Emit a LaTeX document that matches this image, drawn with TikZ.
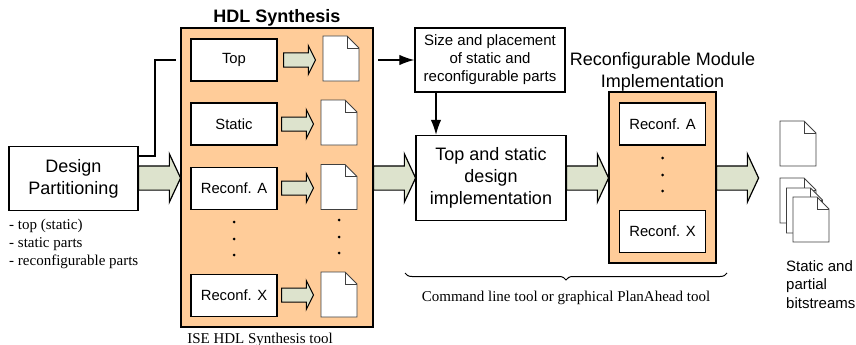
\documentclass[tikz,border=0pt]{standalone}
\usepackage{fontspec}
\setmainfont{Liberation Sans}
\newfontfamily\serifnote{Liberation Serif}
\usetikzlibrary{arrows.meta,shapes.arrows,decorations.pathreplacing}
\definecolor{toolorange}{HTML}{FFCC99}
\definecolor{arrowgreen}{HTML}{DDE3CD}
\tikzset{
  block/.style={draw,line width=1.4pt,fill=white,align=center,inner sep=0pt},
  toolbox/.style={draw,line width=1.4pt,fill=toolorange,inner sep=0pt},
  part/.style={block,minimum width=86pt,minimum height=42pt,font=\fontsize{14.800}{16}\selectfont},
  bigarrow/.style={single arrow,anchor=tail,draw,line width=1.2pt,fill=arrowgreen,inner xsep=0pt,inner ysep=11.5pt,
    minimum height=42pt,single arrow head extend=12pt,
    single arrow tip angle=130,single arrow head indent=0pt},
  smallarrow/.style={single arrow,anchor=tail,draw,line width=1pt,fill=arrowgreen,inner xsep=0pt,inner ysep=6.5pt,
    minimum height=32pt,single arrow head extend=7.5pt,
    single arrow tip angle=127,single arrow head indent=0pt},
  dotnode/.style={circle,fill=black,inner sep=0pt,minimum size=3pt},
  note/.style={font=\serifnote\fontsize{15}{18}\selectfont,align=left,inner sep=0pt},
  docsheet/.pic={
    \draw [line width=.9pt,fill=white,draw=black!75] (0,0) -- (24,0) -- (36,12) -- (36,45) -- (0,45) -- cycle;
    \draw [line width=.9pt,draw=black!75] (24,0) -- (24,12) -- (36,12);
  }
}
\begin{document}
\begin{tikzpicture}[x=1pt,y=-1pt,>={Latex[length=15pt,width=10.5pt]},line join=miter]
\useasboundingbox (0,0) rectangle (856,345);
%%
  \node (design) at (73.5,178.5) [block,minimum width=129pt,minimum height=64pt,font=\fontsize{18}{22}\selectfont] {Design\\Partitioning};
  \node (design_note) at (9,244) [note,anchor=west] {- top (static)\\- static parts\\- reconfigurable parts};

  \node (hdl_box) at (277,177.5) [toolbox,minimum width=192pt,minimum height=299pt] {};
  \node (hdl_title) at (277,17.5) [font=\bfseries\fontsize{18}{18}\selectfont] {HDL Synthesis};
  \node (hdl_tool) at (260,339.5) [note] {ISE HDL Synthesis tool};

  \node (hdl_top) at (234,60) [part] {Top};
  \node (hdl_static) at (234,124) [part] {Static};
  \node (hdl_a) at (234,188.5) [part] {Reconf. A};
  \node (hdl_x) at (234,295.5) [part] {Reconf. X};

  \node (arrow_top) at (283,60) [smallarrow] {};
  \node (arrow_static) at (281,124) [smallarrow] {};
  \node (arrow_a) at (281,188) [smallarrow] {};
  \node (arrow_x) at (281,295) [smallarrow] {};

  \pic at (323,36) {docsheet};
  \pic at (321,100) {docsheet};
  \pic at (321,164.500) {docsheet};
  \pic at (321,272) {docsheet};

  \foreach \dy in {222,239,255} {
    \node at (234,\dy) [dotnode] {};
  }
  \foreach \dy in {220,237,253} {
    \node at (339,\dy) [dotnode] {};
  }

  \node (size) at (490,60) [block,minimum width=150pt,minimum height=64pt,font=\fontsize{15}{18}\selectfont] {Size and placement\\of static and\\reconfigurable parts};
  \node (impl) at (491,178) [block,minimum width=150pt,minimum height=85pt,font=\fontsize{18}{22}\selectfont] {Top and static\\design\\implementation};

  \node (rm_title) at (662.5,71.5) [align=center,inner sep=0pt,font=\fontsize{18}{22}\selectfont] {Reconfigurable Module\\Implementation};
  \node (rm_box) at (662.5,177.500) [toolbox,minimum width=107pt,minimum height=171pt] {};
  \node (rm_a) at (662.5,124) [part] {Reconf. A};
  \node (rm_x) at (662.5,231.500) [part] {Reconf. X};
  \foreach \dy in {158,175,191} {
    \node at (662.5,\dy) [dotnode] {};
  }

  \node (arrow_1) at (138,178) [bigarrow] {};
  \node (arrow_2) at (373,178) [bigarrow] {};
  \node (arrow_3) at (566,178) [bigarrow] {};
  \node (arrow_4) at (716,178) [bigarrow] {};

  \pic at (780,121) {docsheet};
  \pic at (780,178) {docsheet};
  \pic at (786.500,188) {docsheet};
  \pic at (793,197) {docsheet};

  \node (bits_note) at (786,284.500) [anchor=west,align=left,inner sep=0pt,font=\fontsize{15}{18.400}\selectfont] {Static and\\partial\\bitstreams};

  \coordinate (brace_l) at (405,273);
  \coordinate (brace_r) at (727,273);
  \node (brace_note) at (566,297.5) [note] {Command line tool or graphical PlanAhead tool};

  \coordinate (line_out) at (176,60);
  \coordinate (line_in) at (378,60);
  \coordinate (size_down) at (436,92);

  \draw [line width=1.2pt] (design.east |- 0,156) -| (155,60) -- (line_out);
  \draw [line width=1.2pt,->] (line_in) -- (size.west);
  \draw [line width=1.2pt,->] (size_down) -- (size_down |- impl.north);
  \draw [line width=1pt,decorate,decoration={brace,mirror,amplitude=7pt}] (brace_l) -- (brace_r);
%
\end{tikzpicture}
\end{document}
